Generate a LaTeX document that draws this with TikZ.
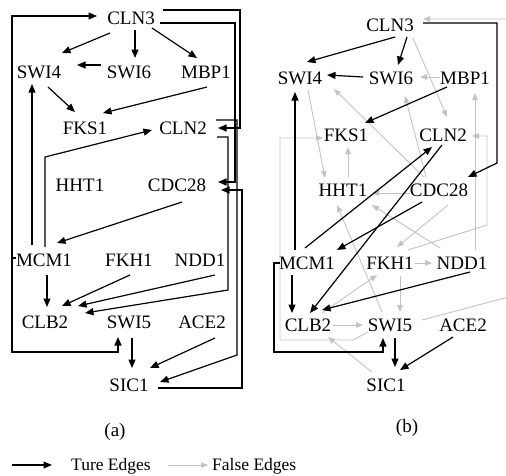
\documentclass[tikz,border=0pt]{standalone}
\usepackage{fontspec}
\setmainfont{Liberation Serif}
\usetikzlibrary{calc,arrows.meta}
\definecolor{fgray}{RGB}{195,195,195}
\begin{document}
\begin{tikzpicture}[x=1pt,y=-1pt,
  lbl/.style={font=\fontsize{19}{19}\selectfont, inner sep=0pt},
  leg/.style={font=\fontsize{17.5}{17.5}\selectfont, inner sep=0pt, anchor=west},
  te/.style={draw=black, line width=1.2pt, -{Triangle[length=8.5pt,width=7pt]}},
  fe/.style={draw=fgray, line width=0.9pt, -{Triangle[length=7pt,width=5.5pt]}},
]
\useasboundingbox (0,0) rectangle (506,475);

% ---------- panel (a) nodes ----------
\node[lbl] (CLN3a)  at (131,18)  {CLN3};
\node[lbl] (SWI4a)  at (39,72)   {SWI4};
\node[lbl] (SWI6a)  at (129,72)  {SWI6};
\node[lbl] (MBP1a)  at (206,72)  {MBP1};
\node[lbl] (FKS1a)  at (85,128)  {FKS1};
\node[lbl] (CLN2a)  at (183,128) {CLN2};
\node[lbl] (HHT1a)  at (80,185)  {HHT1};
\node[lbl] (CDC28a) at (177,185) {CDC28};
\node[lbl] (MCM1a)  at (44,260)  {MCM1};
\node[lbl] (FKH1a)  at (129,260) {FKH1};
\node[lbl] (NDD1a)  at (200,260) {NDD1};
\node[lbl] (CLB2a)  at (45,322)  {CLB2};
\node[lbl] (SWI5a)  at (129,322) {SWI5};
\node[lbl] (ACE2a)  at (202,322) {ACE2};
\node[lbl] (SIC1a)  at (129,385) {SIC1};
\node[lbl] (capa)   at (115,432) {(a)};

% ---------- panel (a) edges ----------
\draw[te] ($(CLN3a)+(-21,15)$) -- ($(SWI4a)+(23,-19)$);
\draw[te] ($(CLN3a)+(4,12)$) -- ($(SWI6a)+(6,-14)$);
\draw[te] ($(CLN3a)+(21,10)$) -- ($(MBP1a)+(-9,-14)$);
\draw[te] ($(SWI6a)+(-28,-7)$) -- ($(SWI4a)+(38,-7)$);
\draw[te] ($(SWI4a)+(9,15)$) -- ($(FKS1a)+(-10,-16)$);
\draw[te] ($(MBP1a)+(1,15)$) -- ($(FKS1a)+(18,-15)$);
\draw[te] ($(MCM1a)+(-12,-15)$) -- ($(SWI4a)+(-7,12)$);
\draw[te] ($(MCM1a)+(1,-13)$) -- ++(0,-90) -- ($(CLN2a)+(-31,2)$);
\draw[te] ($(MCM1a)+(-28,-2)$) -- ++(-4,0) |- ($(CLN3a)+(-34,-2)$);
\draw[te] ($(MCM1a)+(-28,-2)$) -- ++(-4,0) -- ++(0,94) -| ($(SWI5a)+(-11,15)$);
\draw[te] ($(CLN3a)+(32,-8)$) -- ++(77,0) |- ($(CLN2a)+(35,0)$);
\draw[te] ($(CLN3a)+(29,5)$) -- ++(75,0) |- ($(CDC28a)+(41,-3)$);
\draw[te] ($(CLN2a)+(33,-8)$) -- ++(21,0) -- ++(0,235) -- ($(SIC1a)+(31,-3)$);
\draw[te] ($(CLN2a)+(34,9)$) -- ++(11,0) -- ++(0,153) -- ($(CLB2a)+(40,-9)$);
\draw[te] ($(SIC1a)+(29,3)$) -- ++(84,0) |- ($(CDC28a)+(44,5)$);
\draw[te] ($(CDC28a)+(5,17)$) -- ($(MCM1a)+(13,-17)$);
\draw[te] ($(MCM1a)+(3,15)$) -- ($(CLB2a)+(2,-15)$);
\draw[te] ($(FKH1a)+(1,15)$) -- ($(CLB2a)+(17,-16)$);
\draw[te] ($(NDD1a)+(15,15)$) -- ($(CLB2a)+(33,-16)$);
\draw[te] ($(SWI5a)+(3,16)$) -- ($(SIC1a)+(3,-17)$);
\draw[te] ($(ACE2a)+(13,16)$) -- ($(SIC1a)+(21,-17)$);

% ---------- panel (b) nodes ----------
\node[lbl] (CLN3b)  at (390,25)  {CLN3};
\node[lbl] (SWI4b)  at (300,78)  {SWI4};
\node[lbl] (SWI6b)  at (391,78)  {SWI6};
\node[lbl] (MBP1b)  at (465,78)  {MBP1};
\node[lbl] (FKS1b)  at (346,135) {FKS1};
\node[lbl] (CLN2b)  at (443,135) {CLN2};
\node[lbl] (HHT1b)  at (343,190) {HHT1};
\node[lbl] (CDC28b) at (439,190) {CDC28};
\node[lbl] (MCM1b)  at (307,263) {MCM1};
\node[lbl] (FKH1b)  at (390,263) {FKH1};
\node[lbl] (NDD1b)  at (462,263) {NDD1};
\node[lbl] (CLB2b)  at (308,325) {CLB2};
\node[lbl] (SWI5b)  at (390,325) {SWI5};
\node[lbl] (ACE2b)  at (463,325) {ACE2};
\node[lbl] (SIC1b)  at (386,385) {SIC1};
\node[lbl] (capb)   at (407,428) {(b)};

% ---------- panel (b) false edges ----------
\begin{scope}
\clip (0,0) rectangle (506,475);
\draw[fe] ($(SWI5b)+(32,-5)$) -- ++(120,-32) -- ++(0,-269) -- ($(CLN3b)+(33,-6)$);
\end{scope}
\draw[fe] ($(CLN3b)+(23,13)$) -- ($(CLN2b)+(4,-18)$);
\draw[fe] ($(MBP1b)+(-25,-1)$) -- ($(SWI6b)+(29,-1)$);
\draw[fe] ($(SWI4b)+(8,12)$) -- ($(HHT1b)+(-18,-12)$);
\draw[fe] ($(HHT1b)+(5,-13)$) -- ($(FKS1b)+(2,12)$);
\draw[fe] ($(CDC28b)+(-29,3)$) -- ($(HHT1b)+(29,3)$);
\draw[fe] ($(CDC28b)+(-15,-13)$) -- ($(SWI4b)+(34,11)$);
\draw[fe] ($(CDC28b)+(-13,-13)$) -- ($(SWI6b)+(14,18)$);
\draw[fe] ($(SWI5b)+(-8,-13)$) -- ($(HHT1b)+(-6,15)$);
\draw[fe] ($(NDD1b)+(-22,-15)$) -- ($(HHT1b)+(29,15)$);
\draw[fe] ($(CDC28b)+(9,15)$) -- ($(FKH1b)+(7,-16)$);
\draw[fe] ($(FKH1b)+(18,-13)$) -- ++(79,-25) |- ($(CLN2b)+(29,1)$);
\draw[fe] ($(NDD1b)+(13,-13)$) -- ($(MBP1b)+(10,15)$);
\draw[fe] ($(FKH1b)+(25,0)$) -- ($(NDD1b)+(-30,0)$);
\draw[fe] ($(FKH1b)+(10,13)$) -- ($(SWI5b)+(10,-13)$);
\draw[fe] ($(CLB2b)+(14,-12)$) -- ($(FKH1b)+(-13,12)$);
\draw[fe] ($(CLB2b)+(25,0)$) -- ($(SWI5b)+(-27,0)$);
\draw[fe] ($(SIC1b)+(-14,-13)$) -- ($(CLB2b)+(20,12)$);
\draw[fe] ($(SWI5b)+(-22,7)$) -- ++(-15,8) -- ++(-73,0) |- ($(FKS1b)+(-23,3)$);

% ---------- panel (b) true edges ----------
\draw[te] ($(CLN3b)+(5,12)$) -- ($(SWI4b)+(7,-16)$);
\draw[te] ($(CLN3b)+(17,12)$) -- ($(SWI6b)+(7,-13)$);
\draw[te] ($(SWI6b)+(-28,-1)$) -- ($(SWI4b)+(27,-3)$);
\draw[te] ($(MCM1b)+(-12,-13)$) -- ($(SWI4b)+(-5,14)$);
\draw[te] ($(MBP1b)+(-18,9)$) -- ($(FKS1b)+(19,-12)$);
\draw[te] ($(CLN3b)+(33,-2)$) -- ++(74,0) -- ++(0,140) -- ($(CDC28b)+(29,-13)$);
\draw[te] ($(MCM1b)+(-2,-15)$) -- ($(CLN2b)+(-11,12)$);
\draw[te] ($(CLN2b)+(-1,10)$) -- ($(CLB2b)+(2,-12)$);
\draw[te] ($(CDC28b)+(-17,12)$) -- ($(MCM1b)+(30,-13)$);
\draw[te] ($(MCM1b)+(-15,12)$) -- ($(CLB2b)+(-16,-12)$);
\draw[te] ($(NDD1b)+(8,9)$) -- ($(CLB2b)+(14,-15)$);
\draw[te] ($(MCM1b)+(-27,0)$) -- ++(-6,0) -- ++(0,89) -| ($(SWI5b)+(-7,13)$);
\draw[te] ($(SWI5b)+(5,13)$) -- ($(SIC1b)+(9,-18)$);
\draw[te] ($(ACE2b)+(-10,12)$) -- ($(SIC1b)+(14,-15)$);

% ---------- legend ----------
\coordinate (LTs) at (12,465);
\coordinate (LTe) at (52,465);
\coordinate (LFs) at (168,465);
\coordinate (LFe) at (208,465);
\draw[te] (LTs) -- (LTe);
\node[leg] (LTt) at (71,466) {Ture Edges};
\draw[fe] (LFs) -- (LFe);
\node[leg] (LFt) at (212,466) {False Edges};
\end{tikzpicture}
\end{document}
